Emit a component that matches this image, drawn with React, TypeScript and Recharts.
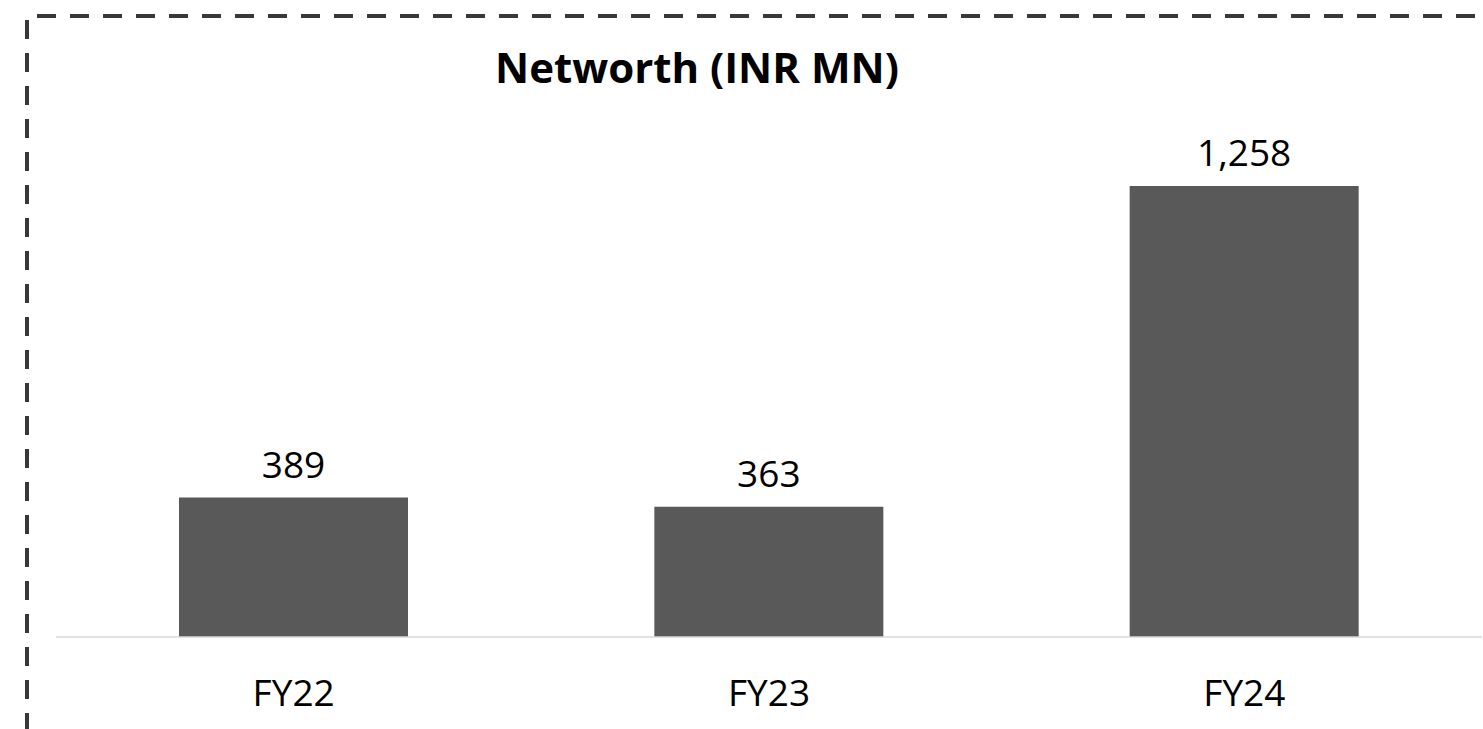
import React from "react";
import { BarChart, Bar, XAxis, YAxis, LabelList } from "recharts";

const categories = ["FY22", "FY23", "FY24"];
const networth = [389, 363, 1258];
const title = "Networth (INR MN)";

const data = categories.map((c, i) => ({ year: c, value: networth[i] }));

const FONT = "'Open Sans', sans-serif";

const fmt = (v: number) => v.toLocaleString("en-US");

export default function App() {
  return (
    <div style={{ position: "absolute", left: 0, top: 0, width: 1483, height: 729, background: "#fff", overflow: "hidden" }}>
      <BarChart
        width={1483}
        height={729}
        data={data}
        margin={{ top: 135, right: 1, bottom: 32, left: 56 }}
      >
        <XAxis
          dataKey="year"
          axisLine={{ stroke: "#d9d9d9", strokeWidth: 1.6 }}
          tickLine={false}
          tickSize={0}
          tickMargin={43}
          height={60}
          tick={{ fill: "#000", fontSize: 37, fontFamily: FONT }}
        />
        <YAxis hide domain={[0, 1400]} />
        <Bar dataKey="value" fill="#595959" barSize={229} isAnimationActive={false}>
          <LabelList
            dataKey="value"
            position="top"
            offset={20}
            formatter={(v: any) => fmt(Number(v))}
            style={{ fill: "#000", fontSize: 37, fontFamily: FONT }}
          />
        </Bar>
      </BarChart>
      <svg width={1483} height={729} style={{ position: "absolute", left: 0, top: 0, pointerEvents: "none" }}>
        <line x1={37} y1={16} x2={1483} y2={16} stroke="#383838" strokeWidth={4} strokeDasharray="19 14" />
        <line x1={27} y1={20} x2={27} y2={729} stroke="#383838" strokeWidth={4} strokeDasharray="19 14" />
        <text x={495} y={83} textAnchor="start" fontFamily={FONT} fontWeight={700} fontSize={42} fill="#000">
          {title}
        </text>
      </svg>
    </div>
  );
}
